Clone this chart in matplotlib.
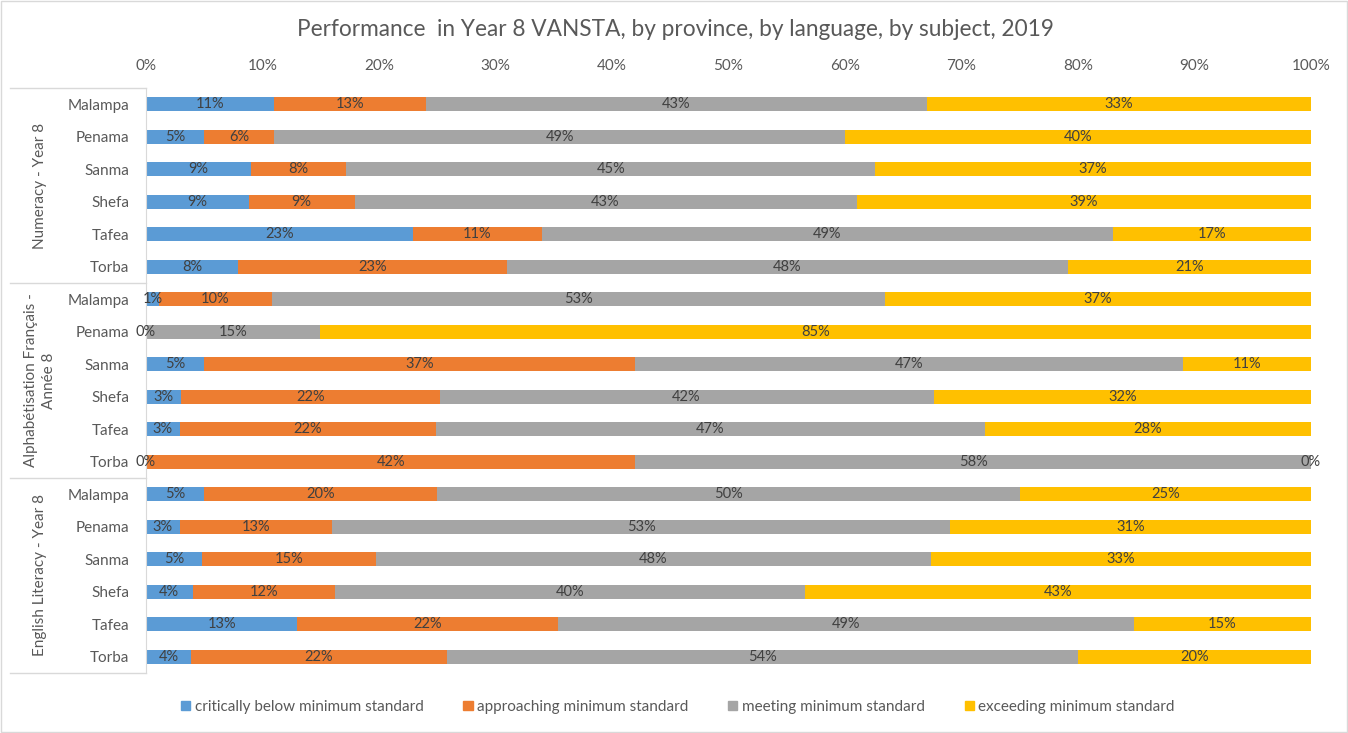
import matplotlib
matplotlib.use("Agg")
import matplotlib.pyplot as plt
import matplotlib.patches as mpatches
import matplotlib.transforms as mtransforms
import numpy as np

plt.rcParams['font.family'] = ['Lato', 'DejaVu Sans']

provinces = ["Malampa", "Penama", "Sanma", "Shefa", "Tafea", "Torba"]
groups = ["Numeracy - Year 8", "Alphabétisation Français -\nAnnée 8", "English Literacy - Year 8"]
series_names = ["critically below minimum standard", "approaching minimum standard",
                "meeting minimum standard", "exceeding minimum standard"]
colors = ["#5B9BD5", "#ED7D31", "#A5A5A5", "#FFC000"]

critical = [11, 5, 9, 8.8, 22.9, 7.9,
            1.1, 0, 5, 3, 2.9, 0,
            5, 2.9, 4.8, 4.0, 13, 3.9]
approaching = [13, 6, 8.2, 9.1, 11.1, 23.1,
               9.7, 0, 37, 22.2, 22, 42,
               20, 13.1, 14.9, 12.2, 22.4, 21.9]
meeting = [43, 49, 45.4, 43.1, 49, 48.1,
           52.6, 14.9, 47, 42.4, 47.1, 58,
           50, 53, 47.7, 40.4, 49.4, 54.2]
exceeding = [33, 40, 37.4, 39, 17, 20.9,
             36.6, 85.1, 11, 32.4, 28, 0,
             25, 31, 32.6, 43.4, 15.2, 20]

W, H = 1348, 733
fig = plt.figure(figsize=(W / 100, H / 100), dpi=100)
ax = fig.add_axes([146 / W, 1 - 673 / H, (1311 - 146) / W, (673 - 88) / H])

labels = provinces * 3
n = len(labels)
y = np.arange(n)
data = [critical, approaching, meeting, exceeding]
left = np.zeros(n)
drawn = set()
for vals, col, name in zip(data, colors, series_names):
    vals = np.array(vals, dtype=float)
    ax.barh(y, vals, left=left, height=0.43, color=col, label=name)
    for yi, (l, v) in enumerate(zip(left, vals)):
        key = (yi, round(l + v / 2, 3))
        if key in drawn:
            continue
        drawn.add(key)
        ax.text(l + v / 2, yi, f"{v:.0f}%", ha='center', va='center',
                fontsize=10.5, color='#404040')
    left = left + vals

ax.set_xlim(0, 100)
ax.set_ylim(n - 0.5, -0.5)
ax.set_yticks(y)
ax.set_yticklabels(labels, fontsize=11, color='#595959')
ax.xaxis.tick_top()
ax.set_xticks(np.arange(0, 101, 10))
ax.set_xticklabels([f"{v}%" for v in range(0, 101, 10)], fontsize=11, color='#595959')
ax.tick_params(axis='both', length=0)
ax.tick_params(axis='x', pad=11)
ax.tick_params(axis='y', pad=12)
for s in ['top', 'right', 'bottom']:
    ax.spines[s].set_visible(False)
ax.spines['left'].set_color('#D9D9D9')

trans = mtransforms.blended_transform_factory(ax.transAxes, ax.transData)
x0 = (10 - 146) / (1311 - 146)
for b in [-0.5, 5.5, 11.5, 17.5]:
    ax.plot([x0, 0], [b, b], transform=trans, color='#D9D9D9', lw=1, clip_on=False)
xg = (40 - 146) / (1311 - 146)
for i, g in enumerate(groups):
    ax.text(xg, 6 * i + 2.5, g, transform=trans, rotation=90, ha='center', va='center',
            fontsize=11, color='#595959', multialignment='center', linespacing=1.4)

fig.text(675 / W, 1 - 30 / H, "Performance  in Year 8 VANSTA, by province, by language, by subject, 2019",
         ha='center', va='center', fontsize=16.3, color='#595959')

handles = [mpatches.Patch(color=c) for c in colors]
fig.legend(handles, series_names, loc='center', bbox_to_anchor=(678 / W, 1 - 707 / H), ncol=4,
           frameon=False, fontsize=11, handlelength=0.6, handleheight=0.6, handletextpad=0.3,
           columnspacing=2.6, labelcolor='#595959')

fig.patches.append(mpatches.Rectangle((1 / W, 1 / H), 1 - 2 / W, 1 - 2 / H, transform=fig.transFigure,
                                      fill=False, edgecolor='#D9D9D9', lw=1))

fig.savefig("out.png", dpi=100, facecolor='white')
